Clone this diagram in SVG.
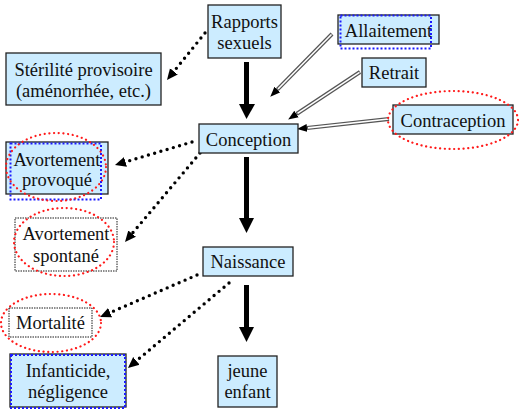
<svg xmlns="http://www.w3.org/2000/svg" width="519" height="409" viewBox="0 0 519 409">
<style>
.box{fill:#CCECFF;stroke:#222;stroke-width:1.3}
.wbox{fill:#fff;stroke:#000;stroke-width:0.9;stroke-dasharray:1.5 1}
.blue{fill:none;stroke:#1a1aff;stroke-width:2;stroke-dasharray:2 2}
.red{fill:none;stroke:#ff1a1a;stroke-width:2.2;stroke-dasharray:0.1 4.6;stroke-linecap:round}
text{font-family:"Liberation Serif","Times New Roman",serif;font-size:18.5px;fill:#111;text-anchor:middle}
.dot{fill:none;stroke:#000;stroke-width:3.4;stroke-dasharray:0 6.5;stroke-linecap:round}
.dbl{fill:none;stroke:#555;stroke-width:4}
.dblin{fill:none;stroke:#fff;stroke-width:1.6}
.thick{fill:none;stroke:#000;stroke-width:5}
</style>
<defs>
<marker id="dh" markerUnits="userSpaceOnUse" markerWidth="14" markerHeight="14" refX="0" refY="6" orient="auto" viewBox="0 0 14 12">
<path d="M0,1 L11,6 L0,11 z" fill="#000"/>
</marker>
<marker id="sh" markerUnits="userSpaceOnUse" markerWidth="12" markerHeight="10" refX="0" refY="5" orient="auto" viewBox="0 0 12 10">
<path d="M0,1 L10,5 L0,9 z" fill="#000"/>
</marker>
</defs>
<g id="connectors">
<line class="thick" x1="246.5" y1="62" x2="246.5" y2="105"/>
<polygon points="239,104 255,104 246.5,119" fill="#000"/>
<line class="thick" x1="246.5" y1="157" x2="246.5" y2="219"/>
<polygon points="239,218 254,218 246.5,233" fill="#000"/>
<line class="thick" x1="246.5" y1="285" x2="246.5" y2="328"/>
<polygon points="239,327 254,327 246.5,342" fill="#000"/>
<path class="dot" d="M205,33 L173.9,71.4" marker-end="url(#dh)"/>
<path class="dot" d="M192,142 L125.5,161.9" marker-end="url(#dh)"/>
<path class="dot" d="M200,153 L132.1,233.6" marker-end="url(#dh)"/>
<path class="dot" d="M197,275 L110.1,312.6" marker-end="url(#dh)"/>
<path class="dot" d="M229,283 L136.4,360.9" marker-end="url(#dh)"/>
<path class="dbl" d="M332,34 L277.3,89.6" marker-end="url(#sh)"/>
<path class="dblin" d="M331.5,34.5 L278,89"/>
<path class="dbl" d="M360,72 L296.5,114" marker-end="url(#sh)"/>
<path class="dblin" d="M359.5,72.3 L297.5,113.4"/>
<path class="dbl" d="M389,119 L307,128" marker-end="url(#sh)"/>
<path class="dblin" d="M388.5,119 L308,127.9"/>
</g>
<g id="rapports">
<rect class="box" x="208" y="5" width="73" height="53"/>
<text x="244.5" y="28">Rapports</text>
<text x="244.5" y="49">sexuels</text>
</g>
<g id="sterilite">
<rect class="box" x="6" y="53" width="155" height="52"/>
<text x="83.5" y="76">Stérilité provisoire</text>
<text x="83.5" y="97">(aménorrhée, etc.)</text>
</g>
<g id="allaitement">
<rect class="box" x="338" y="15" width="101" height="29"/>
<rect class="blue" x="340.5" y="15.5" width="90.5" height="33"/>
<text x="388.5" y="37">Allaitement</text>
</g>
<g id="retrait">
<rect class="box" x="362" y="58" width="64" height="29"/>
<text x="394" y="79">Retrait</text>
</g>
<g id="contraception">
<rect class="box" x="393" y="105" width="120" height="29"/>
<ellipse class="red" cx="453" cy="120" rx="65" ry="29"/>
<text x="453" y="127">Contraception</text>
</g>
<g id="conception">
<rect class="box" x="199" y="124" width="99" height="29"/>
<text x="248.5" y="145.5">Conception</text>
</g>
<g id="avortement-provoque">
<rect class="box" x="6" y="142" width="102" height="52"/>
<rect class="blue" x="10.5" y="143.5" width="90.5" height="56"/>
<ellipse class="red" cx="56" cy="167" rx="50" ry="34"/>
<text x="57" y="166">Avortement</text>
<text x="57" y="186">provoqué</text>
</g>
<g id="avortement-spontane">
<rect class="wbox" x="15" y="218" width="102" height="53"/>
<ellipse class="red" cx="64" cy="242" rx="50" ry="34"/>
<text x="66" y="240">Avortement</text>
<text x="66" y="262">spontané</text>
</g>
<g id="naissance">
<rect class="box" x="203" y="247" width="90" height="29"/>
<text x="248" y="268">Naissance</text>
</g>
<g id="mortalite">
<rect class="wbox" x="9" y="308" width="83" height="29"/>
<ellipse class="red" cx="51" cy="323" rx="50" ry="29"/>
<text x="50.5" y="329">Mortalité</text>
</g>
<g id="infanticide">
<rect class="box" x="10" y="354" width="116" height="53"/>
<rect class="blue" x="11" y="355" width="114" height="53"/>
<text x="68" y="377">Infanticide,</text>
<text x="68" y="398">négligence</text>
</g>
<g id="jeune-enfant">
<rect class="box" x="218" y="356" width="59" height="51"/>
<text x="247.5" y="377">jeune</text>
<text x="247.5" y="398">enfant</text>
</g>
</svg>
